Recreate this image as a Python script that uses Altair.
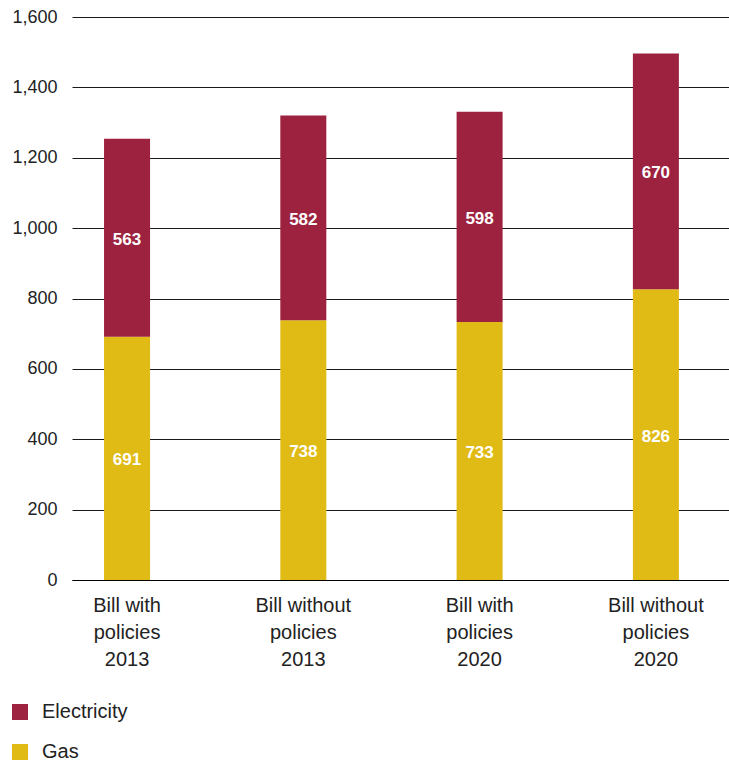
import altair as alt
import pandas as pd

categories = ["Bill with|policies|2013", "Bill without|policies|2013",
              "Bill with|policies|2020", "Bill without|policies|2020"]
gas = [691, 738, 733, 826]
electricity = [563, 582, 598, 670]
series = ["Electricity", "Gas"]
colors = ["#9C2240", "#E0BA15"]

rows = []
for c, g, e in zip(categories, gas, electricity):
    rows.append({"cat": c, "type": "Gas", "value": g, "order": 0})
    rows.append({"cat": c, "type": "Electricity", "value": e, "order": 1})
df = pd.DataFrame(rows)

FONT = "Liberation Sans"

base = alt.Chart(df)

x = alt.X("cat:N", sort=categories, title=None,
          scale=alt.Scale(paddingInner=0.739, paddingOuter=0.233, align=0.39),
          axis=alt.Axis(labelAngle=0, labelExpr="split(datum.label, '|')",
                        labelLineHeight=27, labelFontSize=20, labelFont=FONT,
                        labelColor="#222", labelPadding=15, ticks=False,
                        domain=True, domainColor="#000", domainWidth=1,
                        labelBaseline="top"))

bars = base.mark_bar().encode(
    x=x,
    y=alt.Y("value:Q", stack="zero", title=None,
            scale=alt.Scale(domain=[0, 1600]),
            axis=alt.Axis(values=[0, 200, 400, 600, 800, 1000, 1200, 1400, 1600],
                          format=",.0f", labelFontSize=18, labelFont=FONT,
                          labelColor="#222", labelPadding=15, ticks=False,
                          domain=False, grid=True, gridColor="#1a1a1a",
                          gridWidth=1)),
    color=alt.Color("type:N", sort=series,
                    scale=alt.Scale(domain=series, range=colors),
                    legend=alt.Legend(title=None, orient="none",
                                      legendX=-62, legendY=685,
                                      direction="vertical", symbolType="square",
                                      symbolSize=256, symbolStrokeWidth=0,
                                      labelFontSize=20, labelFont=FONT,
                                      labelColor="#222", rowPadding=20,
                                      labelOffset=12)),
    order=alt.Order("order:Q"),
)

labels = base.mark_text(color="white", fontSize=17, font=FONT,
                        fontWeight="bold", dy=2).encode(
    x=alt.X("cat:N", sort=categories),
    y=alt.Y("mid:Q"),
    text=alt.Text("value:Q"),
).transform_stack(
    stack="value", groupby=["cat"], sort=[alt.SortField("order")],
    as_=["y0", "y1"]
).transform_calculate(mid="(datum.y0 + datum.y1) / 2")

chart = (bars + labels).properties(
    width=657, height=563,
    autosize=alt.AutoSizeParams(type="none"),
    padding={"left": 72, "top": 17, "right": 0, "bottom": 180},
).configure_view(stroke=None)

chart.save("out.html", embed_options={"renderer": "svg", "actions": False})
